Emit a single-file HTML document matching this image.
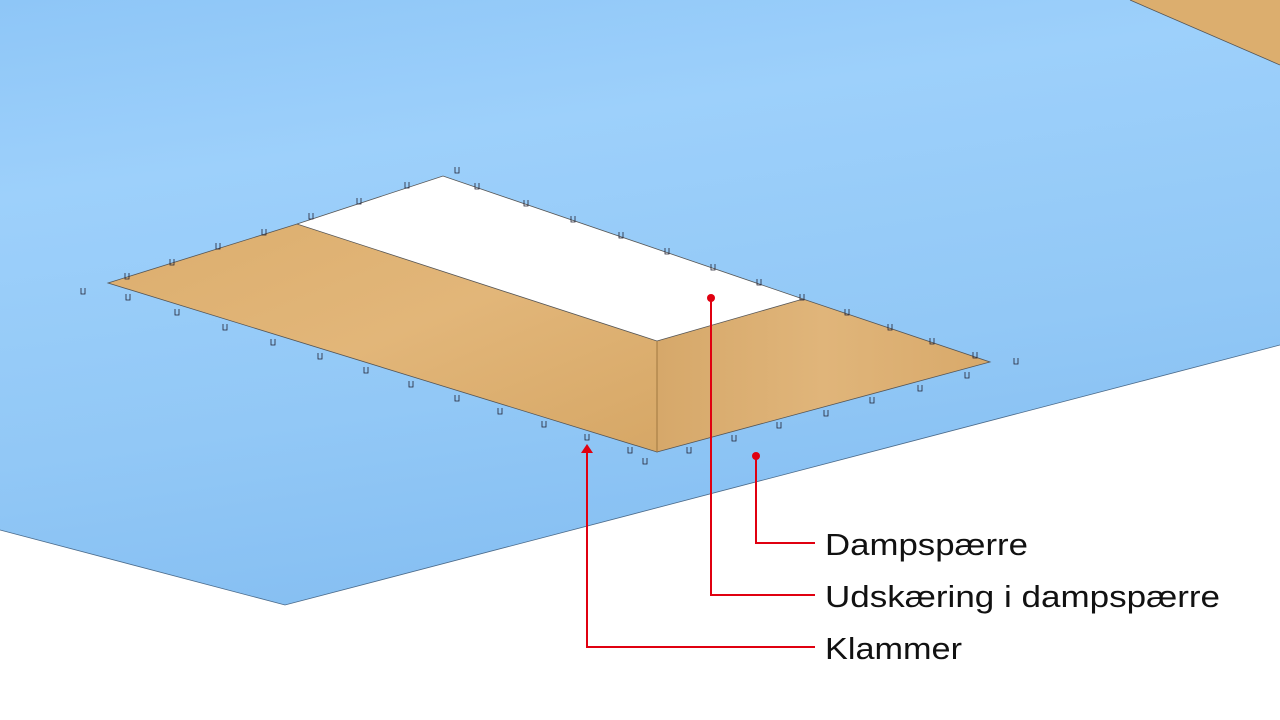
<!DOCTYPE html>
<html><head><meta charset="utf-8"><style>
html,body{margin:0;padding:0;background:#fff;width:1280px;height:720px;overflow:hidden}
svg{display:block}
text{font-family:"Liberation Sans",sans-serif;font-size:31px;fill:#111}
</style></head><body>
<svg width="1280" height="720" viewBox="0 0 1280 720">
<defs>
<linearGradient id="bl" x1="0" y1="0" x2="0.3" y2="1">
<stop offset="0" stop-color="#8ec6f7"/><stop offset="0.3" stop-color="#9dd0fb"/><stop offset="0.7" stop-color="#92c8f6"/><stop offset="1" stop-color="#86bff2"/></linearGradient>
<linearGradient id="w1" x1="0" y1="0" x2="1" y2="1">
<stop offset="0" stop-color="#dcae6e"/><stop offset="0.5" stop-color="#e2b679"/><stop offset="1" stop-color="#d6a766"/></linearGradient>
<linearGradient id="w2" x1="0" y1="0" x2="1" y2="0">
<stop offset="0" stop-color="#d6a86a"/><stop offset="0.5" stop-color="#e0b57a"/><stop offset="1" stop-color="#d8a96a"/></linearGradient>
<g id="s"><path d="M-2,-4 V2 H2 V-4" fill="none" stroke="#223" stroke-width="0.8"/></g>
</defs>
<polygon points="0,0 1280,0 1280,345 285,605 0,530" fill="url(#bl)"/>
<polyline points="0,530 285,605 1280,345" fill="none" stroke="#4a6a8a" stroke-width="0.8"/>
<polygon points="1130,0 1280,0 1280,65" fill="#dcae6e"/>
<line x1="1130" y1="0" x2="1280" y2="65" stroke="#555" stroke-width="0.8"/>
<polygon points="297,224 443,176 803,299 657,341" fill="#fff"/>
<polygon points="108,283 297,224 657,341 657,452" fill="url(#w1)" stroke="#555" stroke-width="0.8"/>
<polygon points="657,341 803,299 990,362 657,452" fill="url(#w2)" stroke="#555" stroke-width="0.8"/>
<polyline points="297,224 443,176 803,299" fill="none" stroke="#555" stroke-width="0.8"/>
<line x1="657" y1="341" x2="657" y2="452" stroke="#a07840" stroke-width="1"/>
<g>
<use href="#s" x="457" y="171"/><use href="#s" x="407" y="186"/><use href="#s" x="359" y="202"/><use href="#s" x="311" y="217"/><use href="#s" x="264" y="233"/><use href="#s" x="218" y="247"/><use href="#s" x="172" y="263"/><use href="#s" x="127" y="277"/><use href="#s" x="83" y="292"/>
<use href="#s" x="477" y="187"/><use href="#s" x="526" y="204"/><use href="#s" x="573" y="220"/><use href="#s" x="621" y="236"/><use href="#s" x="667" y="252"/><use href="#s" x="713" y="268"/><use href="#s" x="759" y="283"/><use href="#s" x="802" y="298"/><use href="#s" x="847" y="313"/><use href="#s" x="890" y="328"/><use href="#s" x="932" y="342"/><use href="#s" x="975" y="356"/><use href="#s" x="1016" y="362"/>
<use href="#s" x="128" y="298"/><use href="#s" x="177" y="313"/><use href="#s" x="225" y="328"/><use href="#s" x="273" y="343"/><use href="#s" x="320" y="357"/><use href="#s" x="366" y="371"/><use href="#s" x="411" y="385"/><use href="#s" x="457" y="399"/><use href="#s" x="500" y="412"/><use href="#s" x="544" y="425"/><use href="#s" x="587" y="438"/><use href="#s" x="630" y="451"/><use href="#s" x="645" y="462"/>
<use href="#s" x="689" y="451"/><use href="#s" x="734" y="439"/><use href="#s" x="779" y="426"/><use href="#s" x="826" y="414"/><use href="#s" x="872" y="401"/><use href="#s" x="920" y="389"/><use href="#s" x="967" y="376"/>
</g>
<g stroke="#e00010" stroke-width="2" fill="none">
<polyline points="756,456 756,543 815,543"/>
<polyline points="711,298 711,595 815,595"/>
<polyline points="587,450 587,647 815,647"/>
</g>
<circle cx="756" cy="456" r="4" fill="#e00010"/>
<circle cx="711" cy="298" r="4" fill="#e00010"/>
<polygon points="587,444 581,453 593,453" fill="#e00010"/>
<text x="825" y="555" textLength="203" lengthAdjust="spacingAndGlyphs">Dampspærre</text>
<text x="825" y="607" textLength="395" lengthAdjust="spacingAndGlyphs">Udskæring i dampspærre</text>
<text x="825" y="659" textLength="137" lengthAdjust="spacingAndGlyphs">Klammer</text>
</svg>
</body></html>
